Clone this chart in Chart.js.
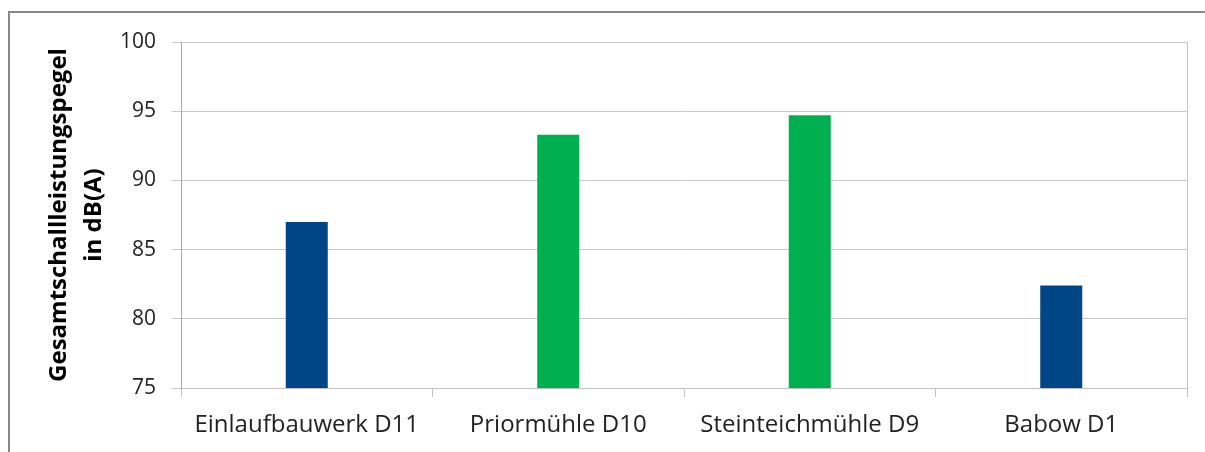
<!DOCTYPE html>
<html>
<head>
<meta charset="utf-8">
<script src="https://cdn.jsdelivr.net/npm/chart.js@4"></script>
<style>
  html, body { margin: 0; padding: 0; background: #fff; overflow: hidden; }
  #frame { position: absolute; left: 8px; top: 11px; width: 1210px; height: 460px; border: 2px solid #888; box-sizing: border-box; }
  #wrap { position: absolute; left: 0; top: 0; width: 1205px; height: 452px; }
</style>
</head>
<body>
<div id="frame"></div>
<div id="wrap"><canvas id="c" width="1205" height="452"></canvas></div>
<script>
const categories = ["Einlaufbauwerk D11", "Priormühle D10", "Steinteichmühle D9", "Babow D1"];
const values = [87.0, 93.3, 94.7, 82.4];
const barColors = ["#004586", "#00b050", "#00b050", "#004586"];
const yTicks = [75, 80, 85, 90, 95, 100];
const yTitle = ["Gesamtschallleistungspegel", "in dB(A)"];

const FONT = "'Open Sans', 'DejaVu Sans', sans-serif";

const rightBorder = {
  id: 'rightBorder',
  beforeDatasetsDraw(chart) {
    const { ctx, chartArea } = chart;
    ctx.save();
    ctx.strokeStyle = '#c6c6c6';
    ctx.lineWidth = 1;
    ctx.beginPath();
    ctx.moveTo(Math.round(chartArea.right) + 0.5, chartArea.top);
    ctx.lineTo(Math.round(chartArea.right) + 0.5, chartArea.bottom);
    ctx.stroke();
    ctx.restore();
  }
};

new Chart(document.getElementById('c'), {
  type: 'bar',
  data: {
    labels: categories,
    datasets: [{
      data: values,
      backgroundColor: barColors,
      borderColor: barColors,
      borderWidth: 0,
      categoryPercentage: 1.0,
      barPercentage: 0.167
    }]
  },
  options: {
    responsive: false,
    animation: false,
    layout: { padding: { left: 42, right: 18, top: 42, bottom: 0 } },
    plugins: { legend: { display: false }, tooltip: { enabled: false } },
    scales: {
      x: {
        offset: true,
        grid: {
          offset: true,
          drawOnChartArea: false,
          drawTicks: true,
          tickLength: 9,
          color: '#c0c0c0'
        },
        border: { display: true, color: '#c0c0c0' },
        ticks: {
          color: '#222',
          font: { family: FONT, size: 24 },
          padding: 14,
          maxRotation: 0,
          autoSkip: false
        },
        afterFit(scale) { scale.height = 64; }
      },
      y: {
        min: 75,
        max: 100,
        afterBuildTicks(scale) { scale.ticks = yTicks.map(v => ({ value: v })); },
        grid: {
          color: '#c8c8c8',
          tickLength: 9,
          drawTicks: true
        },
        border: { display: true, color: '#a8a8a8' },
        ticks: {
          color: '#222',
          font: { family: FONT, size: 21 },
          padding: 16
        },
        title: {
          display: true,
          text: yTitle,
          color: '#000',
          font: { family: FONT, size: 24, weight: 'bold', lineHeight: 1.45 },
          padding: { top: 0, bottom: 0 }
        },
        afterFit(scale) { scale.width = 139; }
      }
    }
  },
  plugins: [rightBorder]
});
</script>
</body>
</html>
